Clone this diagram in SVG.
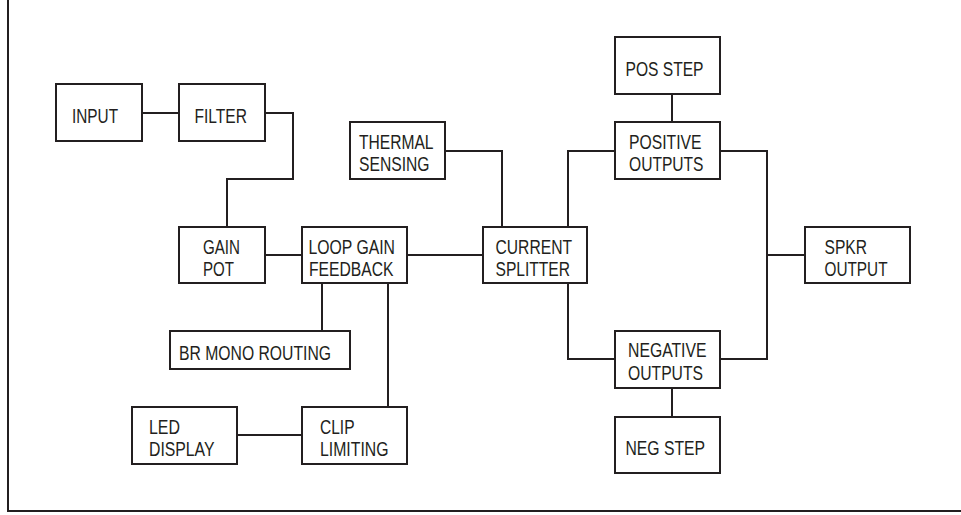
<svg xmlns="http://www.w3.org/2000/svg" width="961" height="515" viewBox="0 0 961 515">
<style>
rect{fill:#fff;stroke:#231f20;stroke-width:2}
path{fill:none;stroke:#231f20;stroke-width:2}
text{font-family:"Liberation Sans",Arial,sans-serif;font-size:19.5px;fill:#231f20}
</style>
<rect x="0" y="0" width="961" height="515" style="stroke:none"/>
<g id="connectors">
<path d="M8,0 V511 H961"/>
<path d="M142,113 H179"/>
<path d="M265,113 H293 V179 H227 V227"/>
<path d="M445,151 H502 V227"/>
<path d="M265,255 H302"/>
<path d="M407,255 H483"/>
<path d="M568,227 V151 H615"/>
<path d="M672,94 V122"/>
<path d="M720,151 H767 V255 H805"/>
<path d="M568,283 V359 H615"/>
<path d="M720,359 H767 V255"/>
<path d="M672,388 V417"/>
<path d="M322,283 V331"/>
<path d="M388,283 V407"/>
<path d="M237,435 H302"/>
</g>
<g id="input"><rect x="56" y="84" width="86" height="57"/><text x="72" y="123" textLength="46" lengthAdjust="spacingAndGlyphs">INPUT</text></g>
<g id="filter"><rect x="179" y="84" width="86" height="57"/><text x="194.5" y="123" textLength="52.5" lengthAdjust="spacingAndGlyphs">FILTER</text></g>
<g id="thermal"><rect x="350" y="122" width="95" height="57"/><text x="359" y="149" textLength="74.5" lengthAdjust="spacingAndGlyphs">THERMAL</text><text x="359" y="171" textLength="70.5" lengthAdjust="spacingAndGlyphs">SENSING</text></g>
<g id="gainpot"><rect x="179" y="227" width="86" height="56"/><text x="203" y="254" textLength="37" lengthAdjust="spacingAndGlyphs">GAIN</text><text x="203" y="276" textLength="31" lengthAdjust="spacingAndGlyphs">POT</text></g>
<g id="loopgain"><rect x="302" y="227" width="105" height="56"/><text x="308.5" y="254" textLength="86.5" lengthAdjust="spacingAndGlyphs">LOOP GAIN</text><text x="309" y="276" textLength="84.5" lengthAdjust="spacingAndGlyphs">FEEDBACK</text></g>
<g id="current"><rect x="483" y="227" width="104" height="56"/><text x="495.5" y="254" textLength="76.5" lengthAdjust="spacingAndGlyphs">CURRENT</text><text x="495.5" y="276" textLength="74.5" lengthAdjust="spacingAndGlyphs">SPLITTER</text></g>
<g id="posstep"><rect x="615" y="37" width="105" height="57"/><text x="625.5" y="76" textLength="78" lengthAdjust="spacingAndGlyphs">POS STEP</text></g>
<g id="posout"><rect x="615" y="122" width="105" height="57"/><text x="629" y="149" textLength="72.5" lengthAdjust="spacingAndGlyphs">POSITIVE</text><text x="629" y="171" textLength="74.5" lengthAdjust="spacingAndGlyphs">OUTPUTS</text></g>
<g id="spkr"><rect x="805" y="227" width="105" height="56"/><text x="824.5" y="254" textLength="42.5" lengthAdjust="spacingAndGlyphs">SPKR</text><text x="824.5" y="276" textLength="63" lengthAdjust="spacingAndGlyphs">OUTPUT</text></g>
<g id="negout"><rect x="615" y="331" width="105" height="57"/><text x="628" y="357" textLength="78.5" lengthAdjust="spacingAndGlyphs">NEGATIVE</text><text x="628" y="379.5" textLength="75" lengthAdjust="spacingAndGlyphs">OUTPUTS</text></g>
<g id="negstep"><rect x="615" y="417" width="105" height="56"/><text x="625.5" y="454.5" textLength="79.5" lengthAdjust="spacingAndGlyphs">NEG STEP</text></g>
<g id="brmono"><rect x="170" y="331" width="180" height="38"/><text x="179" y="360" textLength="152" lengthAdjust="spacingAndGlyphs">BR MONO ROUTING</text></g>
<g id="led"><rect x="132" y="407" width="105" height="57"/><text x="149" y="433.5" textLength="31" lengthAdjust="spacingAndGlyphs">LED</text><text x="149" y="456" textLength="65.5" lengthAdjust="spacingAndGlyphs">DISPLAY</text></g>
<g id="clip"><rect x="302" y="407" width="105" height="57"/><text x="320" y="433.5" textLength="34.5" lengthAdjust="spacingAndGlyphs">CLIP</text><text x="320" y="456" textLength="68.5" lengthAdjust="spacingAndGlyphs">LIMITING</text></g>
</svg>
